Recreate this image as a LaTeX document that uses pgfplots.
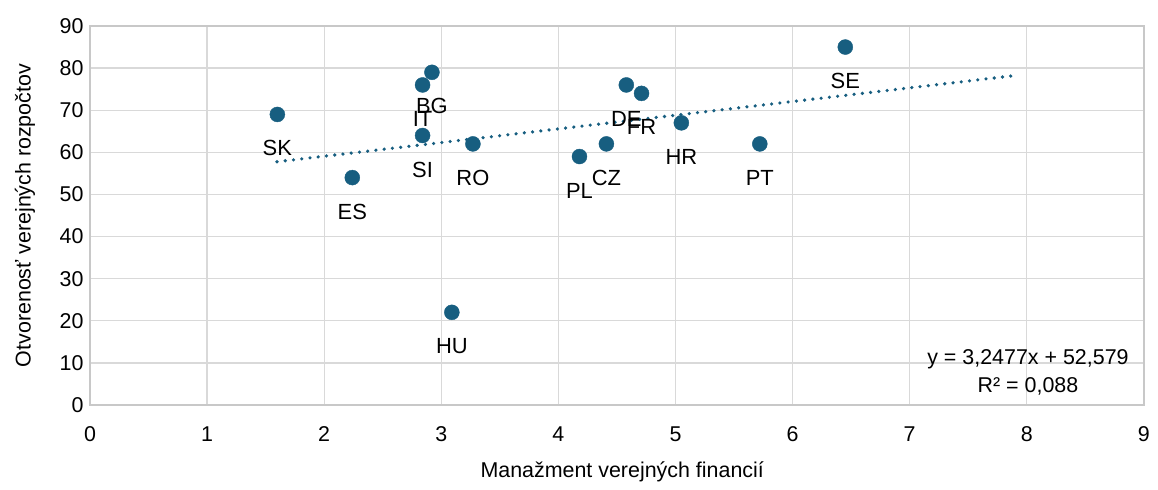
\documentclass[border=0pt]{standalone}
\usepackage{fontspec}
\setmainfont{Liberation Sans}
\usepackage{pgfplots}
\pgfplotsset{compat=1.18}
\definecolor{pt}{RGB}{23,94,128}
\definecolor{gridc}{RGB}{217,217,217}
\definecolor{axc}{RGB}{200,200,200}
\begin{document}
\begin{tikzpicture}
\path[use as bounding box] (-90bp,-85bp) rectangle (1068bp,405bp);
\begin{axis}[
  anchor=origin, at={(0,0)},
  scale only axis, width=1054bp, height=379bp,
  xmin=0, xmax=9, ymin=0, ymax=90,
  xtick={0,1,...,9}, ytick={0,10,...,90},
  grid=major, major grid style={draw=gridc, line width=1.3bp},
  axis line style={draw=axc, line width=1.3bp},
  major tick length=0pt,
  /pgf/number format/assume math mode=true,
  tick label style={font=\fontsize{21.5}{24}\selectfont, text=black},
  xticklabel style={yshift=-18bp},
  yticklabel style={xshift=-3bp},
  xlabel={Manažment verejných financií},
  ylabel={Otvorenosť verejných rozpočtov},
  every axis x label/.style={at={(axis description cs:0.505,0)}, yshift=-67bp, anchor=center, font=\fontsize{21.5}{24}\selectfont},
  every axis y label/.style={at={(axis description cs:0,0.5)}, xshift=-65bp, rotate=90, anchor=center, font=\fontsize{21.5}{24}\selectfont},
]
\addplot[pt, line width=3.6bp, line cap=round, dash pattern=on 0bp off 8.3bp]
  coordinates {(1.597,57.765) (7.91,78.27)};
\addplot[only marks, mark=*, mark size=7.5bp, mark options={draw=pt, fill=pt},
  nodes near coords, point meta=explicit symbolic,
  every node near coord/.style={anchor=center, yshift=-34bp, text=black, font=\fontsize{22}{24}\selectfont}]
  table[meta=lab] {
x y lab
1.60 69 SK
2.24 54 ES
2.84 76 IT
2.92 79 BG
2.84 64 SI
3.27 62 RO
3.09 22 HU
4.18 59 PL
4.41 62 CZ
4.58 76 DE
4.71 74 FR
5.05 67 HR
5.72 62 PT
6.45 85 SE
};
\node[align=center, font=\fontsize{21.5}{28}\selectfont, inner sep=0pt] at (axis cs:8.01,7.85) {y = 3,2477x + 52,579\\R² = 0,088};
\end{axis}
\end{tikzpicture}
\end{document}
